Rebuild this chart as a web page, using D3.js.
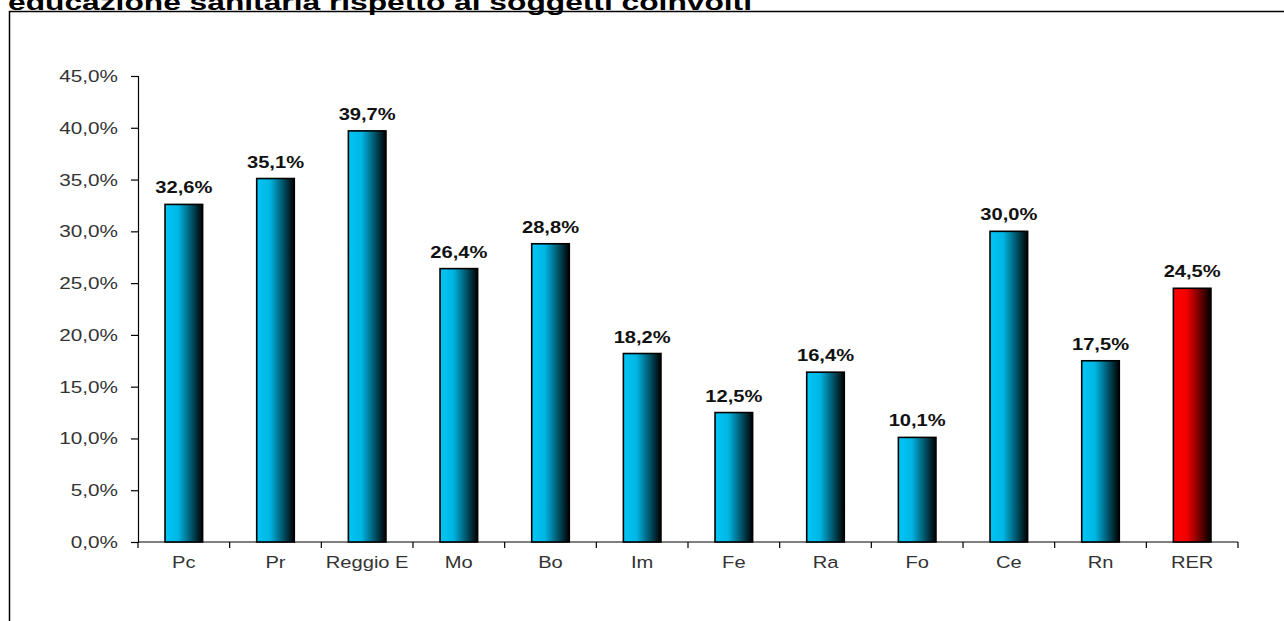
<!DOCTYPE html>
<html>
<head>
<meta charset="utf-8">
<script src="https://cdn.jsdelivr.net/npm/d3@7"></script>
<style>
  body { margin: 0; background: #fff; }
  svg { font-family: "Liberation Sans", Arial, sans-serif; display: block; }
</style>
</head>
<body>
<svg id="chart"></svg>
<script>
// Data
const categories = ["Pc", "Pr", "Reggio E", "Mo", "Bo", "Im", "Fe", "Ra", "Fo", "Ce", "Rn", "RER"];
const values = [32.6, 35.1, 39.7, 26.4, 28.8, 18.2, 12.5, 16.4, 10.1, 30.0, 17.5, 24.5];
const yTicks = [0, 5, 10, 15, 20, 25, 30, 35, 40, 45];
const titleText = "educazione sanitaria rispetto ai soggetti coinvolti";

const W = 1284, H = 621;
const stretch = 1.22; // the original picture is stretched horizontally
let margin = {top: 76, right: 46, bottom: 79, left: 138},
    width = W - margin.left - margin.right,
    height = H - margin.top - margin.bottom;

let svg = d3.select("#chart").attr("width", W).attr("height", H);

let fmt = d => d3.format(".1f")(d).replace(".", ",") + "%";

// Outer frame (cut off at right/bottom)
svg.append("rect")
    .attr("x", 9.5).attr("y", 11.5)
    .attr("width", W + 20).attr("height", H + 20)
    .attr("fill", "none").attr("stroke", "#000").attr("stroke-width", 1.5);

// Title, clipped at the top
svg.append("text")
    .attr("x", 8).attr("y", 10)
    .attr("font-size", "22px").attr("font-weight", "bold")
    .attr("textLength", 744).attr("lengthAdjust", "spacingAndGlyphs")
    .text(titleText);

// Gradients
let defs = svg.append("defs");
function grad(id, c1, c2) {
    let g = defs.append("linearGradient").attr("id", id)
        .attr("x1", "0%").attr("x2", "100%").attr("y1", "0%").attr("y2", "0%");
    g.append("stop").attr("offset", "0%").attr("stop-color", c1);
    g.append("stop").attr("offset", "35%").attr("stop-color", c2);
    g.append("stop").attr("offset", "100%").attr("stop-color", "#000");
}
grad("blueGrad", "#00c6f6", "#00b6e4");
grad("redGrad", "#ff0000", "#f40000");

let g = svg.append("g").attr("transform", "translate(" + margin.left + "," + margin.top + ")");

let x = d3.scaleBand().domain(categories).range([0, width]).paddingInner(0.59).paddingOuter(0.295);
let xOuter = d3.scaleBand().domain(categories).range([0, width]);
let y = d3.scaleLinear().domain([0, 45]).range([height, 0]);

// Y axis
let yAxis = g.append("g").attr("class", "y axis")
    .call(d3.axisLeft(y).tickValues(yTicks).tickSize(7).tickPadding(9.4).tickFormat(fmt));
yAxis.select(".domain").attr("stroke", "#000").attr("stroke-width", 1.2);
yAxis.selectAll(".tick line").attr("stroke", "#000").attr("stroke-width", 1.2);
yAxis.selectAll(".tick text")
    .attr("font-size", "17px").attr("fill", "#333")
    .attr("transform", "scale(" + stretch + ",1)");

// X axis line + ticks at category boundaries
g.append("line")
    .attr("x1", 0).attr("x2", width).attr("y1", height).attr("y2", height)
    .attr("stroke", "#000").attr("stroke-width", 1.2);
let bounds = categories.map(c => xOuter(c)).concat([width]);
g.selectAll(".xtick").data(bounds).enter().append("line")
    .attr("class", "xtick")
    .attr("x1", d => d).attr("x2", d => d)
    .attr("y1", height).attr("y2", height + 6)
    .attr("stroke", "#000").attr("stroke-width", 1.2);
g.selectAll(".xlabel").data(categories).enter().append("text")
    .attr("class", "xlabel")
    .attr("transform", d => "translate(" + (xOuter(d) + xOuter.bandwidth() / 2) + "," + (height + 26) + ") scale(" + stretch + ",1)")
    .attr("text-anchor", "middle")
    .attr("font-size", "16.5px").attr("fill", "#333")
    .text(d => d);

// Bars
g.selectAll(".bar").data(values).enter().append("rect")
    .attr("class", "bar")
    .attr("x", (d, i) => x(categories[i]))
    .attr("y", d => y(d))
    .attr("width", x.bandwidth())
    .attr("height", d => height - y(d))
    .attr("fill", (d, i) => categories[i] === "RER" ? "url(#redGrad)" : "url(#blueGrad)")
    .attr("stroke", "#000").attr("stroke-width", 1.6);

// Value labels
g.selectAll(".val").data(values).enter().append("text")
    .attr("class", "val")
    .attr("transform", (d, i) => "translate(" + (x(categories[i]) + x.bandwidth() / 2) + "," + (y(d) - 11) + ") scale(" + stretch + ",1)")
    .attr("text-anchor", "middle")
    .attr("font-size", "16.5px").attr("font-weight", "bold").attr("fill", "#111")
    .text(fmt);
</script>
</body>
</html>
